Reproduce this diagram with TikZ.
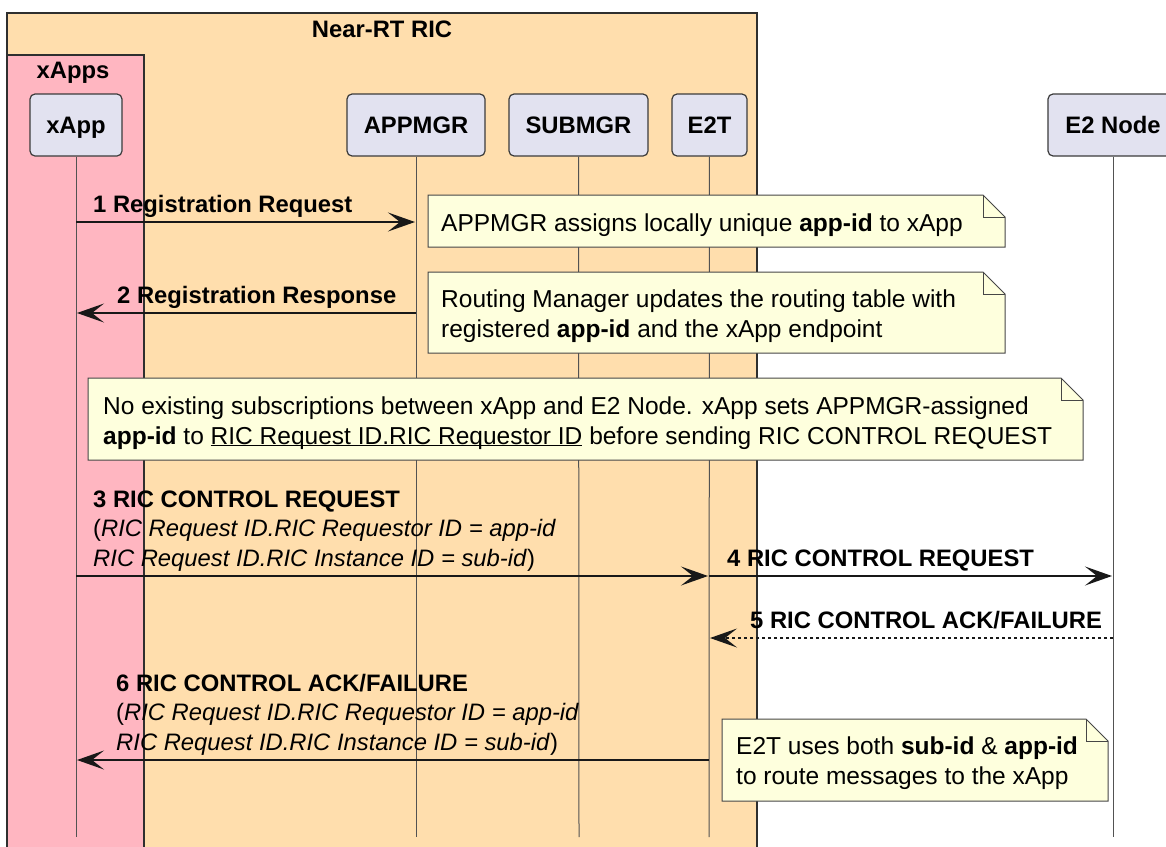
\documentclass[tikz,border=0pt]{standalone}
\usepackage{fontspec}
\setmainfont{Liberation Sans}
\usetikzlibrary{arrows.meta}

\definecolor{ricfill}{HTML}{FFDEAD}
\definecolor{appsfill}{HTML}{FFB6C1}
\definecolor{partfill}{HTML}{E2E2F0}
\definecolor{notefill}{HTML}{FEFFDD}
\definecolor{linecol}{HTML}{181818}

% note with a folded top right corner: x1, y1, x2, y2
\newcommand\notebox[4]{%
  \draw[notebg] (#1,#2) -- (#3-22,#2) -- (#3,#2+22) -- (#3,#4) -- (#1,#4) -- cycle;
  \draw[notebg, fill=none] (#3-22,#2) -- (#3-22,#2+22) -- (#3,#2+22);}
% underline close to the baseline
\newcommand\ulfield[1]{\underline{\smash{#1}}}

\begin{document}
\begin{tikzpicture}[x=1pt, y=-1pt, >={Stealth[length=27pt, width=19pt, inset=12pt]},
  every node/.style={inner sep=0pt},
  boxline/.style={draw=linecol!90, line width=1.2pt},
  part/.style={draw=linecol!85, line width=1.2pt, fill=partfill, rounded corners=5pt,
    font=\bfseries\fontsize{23.8}{29}\selectfont, minimum height=62pt,
    text height=17pt, text depth=0pt},
  title/.style={anchor=base, font=\bfseries\fontsize{23.8}{29}\selectfont},
  life/.style={draw=linecol!75, line width=1pt},
  msg/.style={draw=linecol, line width=2pt, ->},
  reply/.style={draw=linecol, line width=1.5pt, ->, dash pattern=on 3pt off 3pt},
  lbl/.style={anchor=base west, align=left, font=\fontsize{23.8}{29.5}\selectfont},
  notetext/.style={anchor=base west, align=left, font=\fontsize{24.5}{30}\selectfont},
  notebg/.style={draw=linecol!80, fill=notefill, line width=1pt}]

\useasboundingbox (0,0) rectangle (1166,846);
\clip (0,0) rectangle (1166,846);

\fill[ricfill] (7,13) rectangle (757,870);
\draw[boxline] (7,870) -- (7,13) -- (757,13) -- (757,870);
\fill[appsfill] (7,55) rectangle (144,870);
\draw[boxline] (7,870) -- (7,55) -- (144,55) -- (144,870);

\node[title] (rictitle)  at (382,37) {Near-RT RIC};
\node[title] (appstitle) at (73,78)  {xApps};

\node[part, minimum width=92pt]  (xapp)   at (76,125)    {xApp};
\node[part, minimum width=138pt] (appmgr) at (416,125)   {APPMGR};
\node[part, minimum width=139pt] (submgr) at (578.5,125) {SUBMGR};
\node[part, minimum width=75pt]  (e2t)    at (709.5,125) {E2T};
\node[part, minimum width=130pt] (e2node) at (1113,125)  {E2 Node};

\coordinate (xapp-b)   at (76,837);
\coordinate (appmgr-b) at (416,837);
\coordinate (submgr-b) at (579,837);
\coordinate (e2t-b)    at (709,837);
\coordinate (e2node-b) at (1113,837);

\draw[life] (xapp)   -- (xapp-b);
\draw[life] (appmgr) -- (appmgr-b);
\draw[life] (submgr) -- (submgr-b);
\draw[life] (e2t)    -- (e2t-b);
\draw[life] (e2node) -- (e2node-b);

% multi-line nodes sit on the baseline of their last line
\notebox{428}{195}{1005}{247}
\node[notetext] (note1) at (441,231)
  {APPMGR assigns locally unique \textbf{app-id} to xApp};
\notebox{428}{272}{1005}{353}
\node[notetext] (note2) at (441,337)
  {Routing Manager updates the routing table with\\
   registered \textbf{app-id} and the xApp endpoint};
\notebox{88}{378}{1083}{460}
\node[notetext] (note3) at (103,444)
  {No existing subscriptions between xApp and E2 Node. xApp sets APPMGR-assigned\\
   \textbf{app-id} to \ulfield{RIC Request ID.RIC Requestor ID} before sending RIC CONTROL REQUEST};
\notebox{722}{719}{1108}{801}
\node[notetext] (note4) at (736,784)
  {E2T uses both \textbf{sub-id} \& \textbf{app-id}\\to route messages to the xApp};

\coordinate (m1a) at (76,222);   \coordinate (m1b) at (415,222);
\coordinate (m2a) at (416,313);  \coordinate (m2b) at (77,313);
\coordinate (m3a) at (76,576);   \coordinate (m3b) at (708,576);
\coordinate (m4a) at (709,576);  \coordinate (m4b) at (1112,576);
\coordinate (m5a) at (1113,638); \coordinate (m5b) at (710,638);
\coordinate (m6a) at (709,760);  \coordinate (m6b) at (77,760);

\draw[msg]   (m1a) -- (m1b);
\draw[msg]   (m2a) -- (m2b);
\draw[msg]   (m3a) -- (m3b);
\draw[msg]   (m4a) -- (m4b);
\draw[reply] (m5a) -- (m5b);
\draw[msg]   (m6a) -- (m6b);

\node[lbl] (l1) at (93,212)  {\textbf{1 Registration Request}};
\node[lbl] (l2) at (117,303) {\textbf{2 Registration Response}};
\node[lbl] (l3) at (93,566)
  {\textbf{3 RIC CONTROL REQUEST}\\
   (\textit{RIC Request ID.RIC Requestor ID = app-id}\\
   \textit{RIC Request ID.RIC Instance ID = sub-id})};
\node[lbl] (l4) at (727,566) {\textbf{4 RIC CONTROL REQUEST}};
\node[lbl] (l5) at (750,628) {\textbf{5 RIC CONTROL ACK/FAILURE}};
\node[lbl] (l6) at (116,750)
  {\textbf{6 RIC CONTROL ACK/FAILURE}\\
   (\textit{RIC Request ID.RIC Requestor ID = app-id}\\
   \textit{RIC Request ID.RIC Instance ID = sub-id})};

\end{tikzpicture}
\end{document}
